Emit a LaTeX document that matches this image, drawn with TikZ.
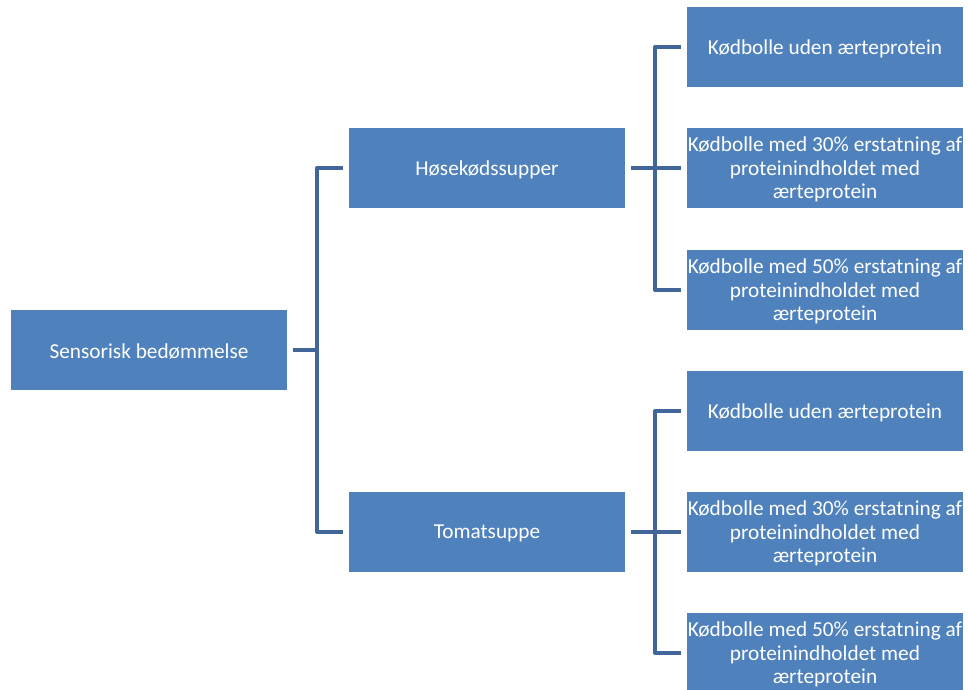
\documentclass[tikz,border=0pt]{standalone}
\usepackage{fontspec}
\setmainfont{Carlito}
\definecolor{boxblue}{HTML}{4F81BD}
\definecolor{lineblue}{HTML}{41679A}
\begin{document}
\begin{tikzpicture}[x=1pt,y=-1pt,
  box/.style={fill=boxblue,draw=none,minimum width=276pt,minimum height=80pt,inner sep=0pt},
  txt/.style={text=white,font=\fontsize{21.3}{23.6}\selectfont,align=center,inner sep=0pt,yshift=-1.5pt},
  conn/.style={draw=lineblue,line width=4pt,line join=round}]
\useasboundingbox (0,0) rectangle (968,689);
\node[box] (root) at (149,350) {};
\node[box] (m1) at (487,168) {};
\node[box] (m2) at (487,532) {};
\node[box] (a1) at (825,47) {};
\node[box] (a2) at (825,168) {};
\node[box] (a3) at (825,290) {};
\node[box] (b1) at (825,411) {};
\node[box] (b2) at (825,532) {};
\node[box] (b3) at (825,653) {};
\node[txt] (troot) at (root.center) {Sensorisk bedømmelse};
\node[txt] (tm1) at (m1.center) {Høsekødssupper};
\node[txt] (tm2) at (m2.center) {Tomatsuppe};
\node[txt] (ta1) at (a1.center) {Kødbolle uden ærteprotein};
\node[txt] (ta2) at (a2.center) {Kødbolle med 30\% erstatning af\\proteinindholdet med\\ærteprotein};
\node[txt] (ta3) at (a3.center) {Kødbolle med 50\% erstatning af\\proteinindholdet med\\ærteprotein};
\node[txt] (tb1) at (b1.center) {Kødbolle uden ærteprotein};
\node[txt] (tb2) at (b2.center) {Kødbolle med 30\% erstatning af\\proteinindholdet med\\ærteprotein};
\node[txt] (tb3) at (b3.center) {Kødbolle med 50\% erstatning af\\proteinindholdet med\\ærteprotein};
% root connectors
\coordinate (r1) at (317,350);
\draw[conn] ([xshift=6pt]root.east) -- (r1);
\draw[conn] ([xshift=-6pt]m1.west) -| (r1) |- ([xshift=-6pt]m2.west);
% upper group
\coordinate (u1) at (655,168);
\draw[conn] ([xshift=6pt]m1.east) -- ([xshift=-6pt]a2.west);
\draw[conn] ([xshift=-6pt]a1.west) -| (u1) |- ([xshift=-6pt]a3.west);
% lower group
\coordinate (l1) at (655,532);
\draw[conn] ([xshift=6pt]m2.east) -- ([xshift=-6pt]b2.west);
\draw[conn] ([xshift=-6pt]b1.west) -| (l1) |- ([xshift=-6pt]b3.west);
\end{tikzpicture}
\end{document}
